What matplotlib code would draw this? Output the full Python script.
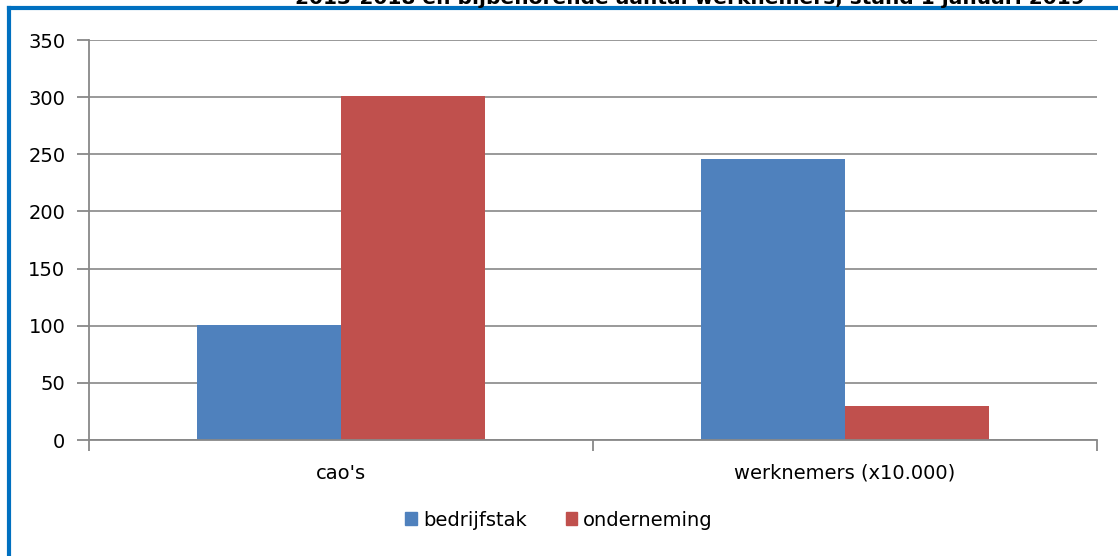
import matplotlib.pyplot as plt
from matplotlib.lines import Line2D
from matplotlib.patches import Patch

categories = ["cao's", "werknemers (x10.000)"]
bedrijfstak = [101, 246]
onderneming = [301, 30]
yticks = [0, 50, 100, 150, 200, 250, 300, 350]
title = "2013-2018 en bijbehorende aantal werknemers, stand 1 januari 2019"

blue = '#4F81BD'
red = '#C0504D'
grey = '#888888'

plt.rcParams['font.family'] = ['DejaVu Sans']

fig = plt.figure(figsize=(11.18, 5.56), dpi=100)
ax = fig.add_axes([89 / 1118, 116 / 556, 1008 / 1118, 400 / 556])

w = 1 / 3.5
x = range(len(categories))
ax.bar([i - w / 2 for i in x], bedrijfstak, width=w, color=blue, zorder=3)
ax.bar([i + w / 2 for i in x], onderneming, width=w, color=red, zorder=3)

ax.set_xlim(-0.5, len(categories) - 0.5)
ax.set_ylim(0, 350)
ax.set_yticks(yticks)
ax.set_xticks(list(x))
ax.set_xticklabels(categories)
ax.set_xticks([i - 0.5 for i in range(len(categories) + 1)], minor=True)
ax.tick_params(axis='x', which='major', length=0, pad=17, labelsize=14)
ax.tick_params(axis='x', which='minor', length=8, width=1.3, color=grey)
ax.tick_params(axis='y', length=9, width=1.3, color=grey, labelsize=14, pad=8)

ax.grid(axis='y', color=grey, lw=1.2, zorder=0)
for s in ['top', 'right']:
    ax.spines[s].set_visible(False)
for s in ['left', 'bottom']:
    ax.spines[s].set_color(grey)
    ax.spines[s].set_linewidth(1.3)
ax.spines['bottom'].set_zorder(4)

handles = [Patch(color=blue, label='bedrijfstak'), Patch(color=red, label='onderneming')]
fig.legend(handles=handles, loc='center', bbox_to_anchor=(0.5, 1 - 520 / 556), ncol=2,
           frameon=False, fontsize=14, handlelength=0.6, handleheight=0.6,
           handletextpad=0.3, columnspacing=2.0)

# blue frame (left and top edges visible)
fig.add_artist(Line2D([9 / 1118, 9 / 1118], [0, 1 - 8 / 556], transform=fig.transFigure,
                      color='#0070C0', lw=3))
fig.add_artist(Line2D([9 / 1118, 1], [1 - 8 / 556, 1 - 8 / 556], transform=fig.transFigure,
                      color='#0070C0', lw=3))

fig.text(1085 / 1118, 1 - 4 / 556, title, ha='right', va='baseline',
         fontsize=14.5, fontweight='bold')

fig.savefig('out.png', dpi=100)
